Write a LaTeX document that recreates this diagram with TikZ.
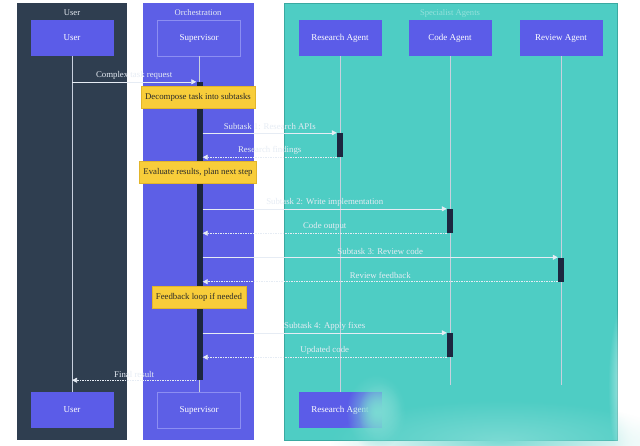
\documentclass[tikz,border=0pt]{standalone}
\usepackage{fontspec}
\setmainfont{Liberation Serif}
\usetikzlibrary{arrows.meta,positioning,fadings}
\definecolor{userlane}{HTML}{2F3E50}
\definecolor{orchlane}{HTML}{5D5FE6}
\definecolor{agentlane}{HTML}{4ECDC4}
\definecolor{agentedge}{HTML}{3AA9A1}
\definecolor{actorfill}{HTML}{5B5CE8}
\definecolor{supedge}{HTML}{8C8EF2}
\definecolor{notefill}{HTML}{F8CD3A}
\definecolor{noteedge}{HTML}{E2B52A}
\definecolor{notetext}{HTML}{2A2A2A}
\definecolor{barfill}{HTML}{1C2740}
\definecolor{lifegrey}{HTML}{C8D0DE}
\definecolor{msgline}{HTML}{E6ECF4}
\tikzfading[name=softspot,inner color=transparent!0,outer color=transparent!100]
\tikzset{lane/.style={anchor=north west,minimum width=110pt,minimum height=437pt,inner sep=0pt},
  lanetitle/.style={font=\fontsize{8.6}{10}\selectfont,text=msgline},
  actor/.style={fill=actorfill,text=white,minimum width=83pt,minimum height=36pt,
  font=\small,inner sep=2pt},
  supbox/.style={actor,draw=supedge,fill=orchlane,line width=0.4pt},
  note/.style={draw=noteedge,fill=notefill,text=notetext,font=\fontsize{8.8}{10}\selectfont,
  minimum height=22pt,inner sep=4pt},
  bar/.style={fill=barfill,minimum width=6pt,inner sep=0pt},
  lifeline/.style={draw=lifegrey,line width=0.8pt},
  call/.style={-{Triangle[length=5pt,width=5pt]},draw=msgline,line width=0.6pt},
  reply/.style={call,dash pattern=on 1.5pt off 1pt},
  msg/.style={font=\fontsize{8.8}{10}\selectfont,text=msgline,above,inner sep=2pt,yshift=0.5pt},
  smear/.style={path fading=softspot}}

\begin{document}
\begin{tikzpicture}[x=1pt,y=-1pt]
\useasboundingbox[fill=white] (0,0) rectangle (640,445);
% swim lanes
\node[lane,fill=userlane] (ulane) at (17,3) {};
\node[lane,fill=orchlane,minimum width=111pt] (olane) at (143,3) {};
\node[lane,fill=agentlane,draw=agentedge,minimum width=333pt] (alane) at (284,3) {};
\node[lanetitle] (utitle) at (72,13) {User};
\node[lanetitle] (otitle) at (198,13) {Orchestration};
\node[lanetitle,text=agentlane!60!white] (atitle) at (450,13) {Specialist Agents};
% participants
\node[actor] (usertop) at (72,38) {User};
\node[supbox] (suptop) at (199,38) {Supervisor};
\node[actor] (restop) at (340,38) {Research Agent};
\node[actor] (codetop) at (450,38) {Code Agent};
\node[actor] (revtop) at (561,38) {Review Agent};
\node[actor] (userbot) at (72,410) {User};
\node[supbox] (supbot) at (199,410) {Supervisor};
\node[actor] (resbot) at (340,410) {Research Agent};
\coordinate (codeend) at (450,385);
\coordinate (revend) at (561,385);
% lifelines
\draw[lifeline] (usertop.south)--(userbot.north);
\draw[lifeline] (suptop.south)--(supbot.north);
\draw[lifeline] (restop.south)--(resbot.north);
\draw[lifeline] (codetop.south)--(codeend);
\draw[lifeline] (revtop.south)--(revend);
% activations
\node[bar,minimum height=298pt] (supbar) at (199.5,231) {};
\node[bar,minimum height=24pt] (resbar) at (340,145) {};
\node[bar,minimum height=24pt] (codebar1) at (450,221) {};
\node[bar,minimum height=24pt] (revbar) at (561,269.5) {};
\node[bar,minimum height=24pt] (codebar2) at (450,345) {};
% messages
\draw[call] (supbar.north west -| usertop.south)--(supbar.north west)
  node[msg,midway] {Complex task request};
\draw[call] (resbar.north west -| supbar.east)--(resbar.north west)
  node[msg,midway] {Subtask 1: Research APIs};
\draw[reply] (resbar.south west)--(resbar.south west -| supbar.east)
  node[msg,midway] {Research findings};
\draw[call] (codebar1.north west -| supbar.east)--(codebar1.north west)
  node[msg,midway] {Subtask 2: Write implementation};
\draw[reply] (codebar1.south west)--(codebar1.south west -| supbar.east)
  node[msg,midway] {Code output};
\draw[call] (revbar.north west -| supbar.east)--(revbar.north west)
  node[msg,midway] {Subtask 3: Review code};
\draw[reply] (revbar.south west)--(revbar.south west -| supbar.east)
  node[msg,midway] {Review feedback};
\draw[call] (codebar2.north west -| supbar.east)--(codebar2.north west)
  node[msg,midway] {Subtask 4: Apply fixes};
\draw[reply] (codebar2.south west)--(codebar2.south west -| supbar.east)
  node[msg,midway] {Updated code};
\draw[reply] (supbar.south west)--(supbar.south west -| usertop.south)
  node[msg,midway] {Final result};
% notes
\node[note] (decomp) at (198,97) {Decompose task into subtasks};
\node[note] (evaluate) at (198,172) {Evaluate results, plan next step};
\node[note] (loop) at (199,297) {Feedback loop if needed};
% smeared corner
\fill[agentlane!75!white,smear] (376,412) ellipse (30 and 38);
\fill[agentlane!75!white,smear] (380,412) ellipse (22 and 30);
\fill[agentlane!75!white,smear] (500,440) ellipse (170 and 40);
\fill[white,smear] (634,385) ellipse (26 and 100);
\end{tikzpicture}
\end{document}
